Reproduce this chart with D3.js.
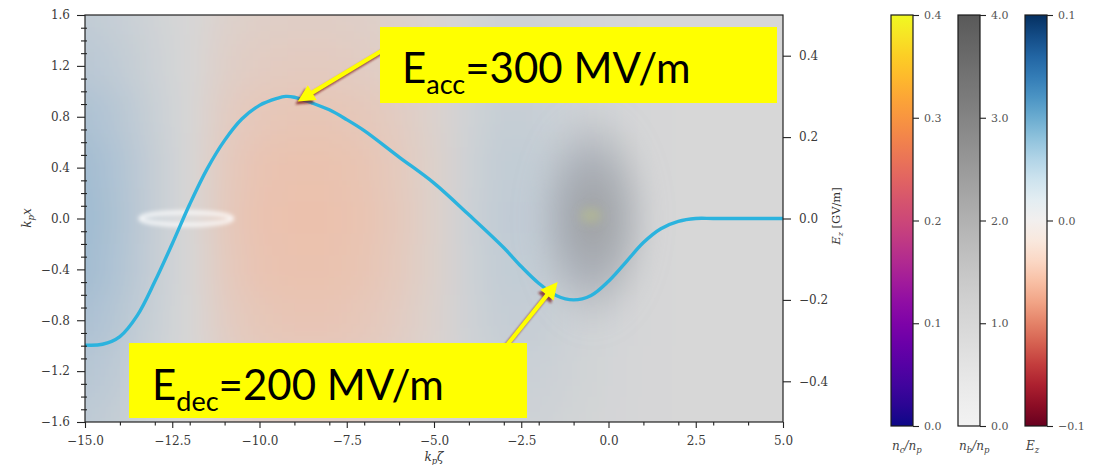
<!DOCTYPE html>
<html>
<head>
<meta charset="utf-8">
<script src="https://cdn.jsdelivr.net/npm/d3@7"></script>
<style>
  body { margin: 0; background: #fff; }
  svg { display: block; font-family: "DejaVu Serif", "Liberation Serif", serif; }
</style>
</head>
<body>
<svg id="chart" width="1093" height="465"></svg>
<script>
// ---- On-axis longitudinal field Ez [GV/m] versus k_p·zeta ----
const zeta   = [-15, -14.5, -14, -13.5, -13, -12.5, -12, -11.5, -11, -10.5, -10, -9.5, -9.25, -9, -8.5, -8, -7.5, -7, -6, -5, -4, -3, -2.5, -2, -1.5, -1, -0.5, 0, 0.5, 1, 1.5, 2, 2.5, 3, 4, 5];
const ezLine = [-0.311, -0.309, -0.290, -0.238, -0.155, -0.062, 0.035, 0.122, 0.192, 0.245, 0.278, 0.295, 0.300, 0.298, 0.284, 0.267, 0.243, 0.216, 0.151, 0.087, 0.009, -0.072, -0.118, -0.159, -0.189, -0.200, -0.189, -0.154, -0.107, -0.059, -0.025, -0.007, 0.0, 0.0, 0.0, 0.0];

// ---- Background Ez map (colour-bar units), separable: column value x row weight ----
const fieldZeta   = [-15, -14, -13, -12, -11, -10, -9, -8, -7, -6, -5, -4, -3, -2, -1, 0, 1, 2, 3, 4, 5];
const fieldEz     = [0.050, 0.036, 0.016, 0.0, -0.024, -0.035, -0.038, -0.038, -0.033, -0.024, -0.011, 0.010, 0.021, 0.019, 0.012, 0.006, 0.002, 0.0, 0.0, 0.0, 0.0];
const fieldX      = [1.6, 1.2, 0.8, 0.4, 0.0, -0.4, -0.8, -1.2, -1.6];
const fieldWeight = [0.4, 0.55, 0.78, 0.95, 1.0, 0.95, 0.8, 0.6, 0.45];

// ---- Beams: drive bunch (n_b/n_p) and witness bunch ----
const driverZeta = [-0.45], driverX = [0.0], driverHalfLen = [1.8], driverHalfWid = [0.9], driverDensity = [2.8];
const witnessZeta = [-12.1], witnessX = [0.0], witnessHalfLen = [1.32], witnessHalfWid = [0.05];

// ---- Axis ticks ----
const xTicks  = [-15, -12.5, -10, -7.5, -5, -2.5, 0, 2.5, 5];
const xMinor  = [-14, -13, -12, -11, -9, -8, -7, -6, -4, -3, -2, -1, 1, 2, 3, 4];
const yTicks  = [-1.6, -1.2, -0.8, -0.4, 0.0, 0.4, 0.8, 1.2, 1.6];
const ezTicks = [-0.4, -0.2, 0.0, 0.2, 0.4];
const ncTicks = [0.0, 0.1, 0.2, 0.3, 0.4];
const nbTicks = [0.0, 1.0, 2.0, 3.0, 4.0];
const ezCbTicks = [-0.1, 0.0, 0.1];

const SERIF = "'DejaVu Serif', 'Liberation Serif', serif";
const svg = d3.select("#chart");
const defs = svg.append("defs");
const L = 85, R = 783, T = 15, B = 422;

const x  = d3.scaleLinear().domain([-15, 5]).range([L, R]);
const y  = d3.scaleLinear().domain([-1.6, 1.6]).range([B, T]);
const yE = d3.scaleLinear().domain([-0.5, 0.5]).range([B, T]);
const fmt = d3.format(".1f");

// filters
function blurFilter(id, sd) {
  const f = defs.append("filter").attr("id", id)
    .attr("filterUnits", "userSpaceOnUse")
    .attr("x", -200).attr("y", -200).attr("width", 1500).attr("height", 900);
  f.append("feGaussianBlur").attr("stdDeviation", sd);
}
blurFilter("fieldBlur", 16);
blurFilter("beamBlur", 12);
blurFilter("ringBlur", 2.2);
blurFilter("spotBlur", 5);
blurFilter("shadowBlur", 1.2);

defs.append("clipPath").attr("id", "plotClip")
  .append("rect").attr("x", L).attr("y", T).attr("width", R - L).attr("height", B - T);

// field colour: diverging map seen through the grey density layer
const fieldColor = d3.scaleLinear().domain([-0.1, 0, 0.1])
  .range(["#ff9a6a", "#d7d7d7", "#5f9fcc"]).interpolate(d3.interpolateLab);

const plot = svg.append("g").attr("clip-path", "url(#plotClip)");
plot.append("rect").attr("x", L).attr("y", T).attr("width", R - L).attr("height", B - T)
  .attr("fill", fieldColor(0));

const field = plot.append("g").attr("filter", "url(#fieldBlur)");
const cells = [];
fieldZeta.forEach((z, i) => fieldX.forEach((xv, j) => cells.push({ z, xv, i, j, v: fieldEz[i] * fieldWeight[j] })));
const cx0 = d => x(d.i === 0 ? d.z - 3 : d.z - 0.5);
const cx1 = d => x(d.i === fieldZeta.length - 1 ? d.z + 3 : d.z + 0.5);
const cy0 = d => y(d.j === 0 ? d.xv + 1 : d.xv + 0.2);
const cy1 = d => y(d.j === fieldX.length - 1 ? d.xv - 1 : d.xv - 0.2);
field.selectAll("rect").data(cells).join("rect")
  .attr("x", cx0).attr("width", d => cx1(d) - cx0(d) + 0.5)
  .attr("y", cy0).attr("height", d => cy1(d) - cy0(d) + 0.5)
  .attr("fill", d => fieldColor(d.v));

// drive bunch density (Greys)
const nbScale = d3.scaleLinear().domain([0, 4]).range([0, 1]);
const beamGrad = defs.append("radialGradient").attr("id", "beamGrad");
beamGrad.append("stop").attr("offset", 0).attr("stop-color", d3.interpolateGreys(0.1 + 0.62 * nbScale(driverDensity[0]))).attr("stop-opacity", 0.75);
beamGrad.append("stop").attr("offset", 0.5).attr("stop-color", "#8a909b").attr("stop-opacity", 0.5);
beamGrad.append("stop").attr("offset", 1).attr("stop-color", "#a8abb2").attr("stop-opacity", 0);
plot.append("g").attr("filter", "url(#beamBlur)")
  .selectAll("ellipse").data(driverZeta).join("ellipse")
  .attr("cx", d => x(d)).attr("cy", (d, i) => y(driverX[i]))
  .attr("rx", (d, i) => x(d + driverHalfLen[i]) - x(d))
  .attr("ry", (d, i) => y(0) - y(driverHalfWid[i]))
  .attr("fill", "url(#beamGrad)");
// faint core of the bunch (plasma map)
plot.append("g").attr("filter", "url(#spotBlur)")
  .selectAll("ellipse").data(driverZeta).join("ellipse")
  .attr("cx", d => x(d) - 2).attr("cy", (d, i) => y(driverX[i]) - 3)
  .attr("rx", 11).attr("ry", 8)
  .attr("fill", "#c9d27a").attr("opacity", 0.32);

// witness bunch
plot.append("g").attr("filter", "url(#ringBlur)")
  .selectAll("ellipse").data(witnessZeta).join("ellipse")
  .attr("cx", d => x(d)).attr("cy", (d, i) => y(witnessX[i]))
  .attr("rx", (d, i) => x(d + witnessHalfLen[i]) - x(d))
  .attr("ry", (d, i) => y(0) - y(witnessHalfWid[i]))
  .attr("fill", "#ffffff").attr("fill-opacity", 0.18)
  .attr("stroke", "#ffffff").attr("stroke-width", 3.5).attr("stroke-opacity", 0.9);

// Ez line (right axis)
const line = d3.line().x((d, i) => x(zeta[i])).y(d => yE(d)).curve(d3.curveCatmullRom.alpha(0.5));
plot.append("path").datum(ezLine)
  .attr("d", line).attr("fill", "none")
  .attr("stroke", "#2bb3de").attr("stroke-width", 3.4).attr("stroke-linecap", "round");

// frame
svg.append("rect").attr("x", L).attr("y", T).attr("width", R - L).attr("height", B - T)
  .attr("fill", "none").attr("stroke", "#222").attr("stroke-width", 1.2);

// axes
function styleAxis(g) {
  g.attr("font-family", SERIF).attr("font-size", 12);
  g.select(".domain").remove();
  g.selectAll(".tick line").attr("stroke", "#222").attr("stroke-width", 1.1);
  g.selectAll(".tick text").attr("fill", "#3a3a3a").style("font-family", SERIF).attr("font-size", 12);
}
const yMinor = d3.range(-15, 16).filter(k => k % 4 !== 0).map(k => k / 10);
svg.append("g").attr("transform", `translate(${L},0)`)
  .call(d3.axisLeft(y).tickValues(yTicks).tickSize(8).tickPadding(7).tickFormat(fmt)).call(styleAxis);
svg.append("g").attr("transform", `translate(${L + 2},0)`)
  .call(d3.axisLeft(y).tickValues(yMinor).tickSize(6).tickFormat("")).call(styleAxis);
svg.append("g").attr("transform", `translate(0,${B})`)
  .call(d3.axisBottom(x).tickValues(xTicks).tickSize(6).tickPadding(8).tickFormat(fmt)).call(styleAxis);
svg.append("g").attr("transform", `translate(0,${B})`)
  .call(d3.axisBottom(x).tickValues(xMinor).tickSize(3.5).tickFormat("")).call(styleAxis);
svg.append("g").attr("transform", `translate(${R},0)`)
  .call(d3.axisRight(yE).tickValues(ezTicks).tickSize(8).tickPadding(8).tickFormat(fmt)).call(styleAxis);

// axis labels
const yl = svg.append("text").attr("transform", "translate(31,218) rotate(-90)")
  .attr("text-anchor", "middle").attr("font-size", 12).attr("fill", "#333").attr("font-style", "italic");
yl.append("tspan").text("k");
yl.append("tspan").attr("font-size", 8.5).attr("dy", 3).text("p");
yl.append("tspan").attr("dy", -3).text("x");

const xl = svg.append("text").attr("x", (L + R) / 2).attr("y", 461)
  .attr("text-anchor", "middle").attr("font-size", 12).attr("fill", "#333").attr("font-style", "italic");
xl.append("tspan").text("k");
xl.append("tspan").attr("font-size", 8.5).attr("dy", 3).text("p");
xl.append("tspan").attr("dy", -3).text("ζ");

const el = svg.append("text").attr("transform", "translate(840,216) rotate(-90)")
  .attr("text-anchor", "middle").attr("font-size", 11.5).attr("fill", "#333");
el.append("tspan").attr("font-style", "italic").text("E");
el.append("tspan").attr("font-style", "italic").attr("font-size", 8).attr("dy", 3).text("z");
el.append("tspan").attr("dy", -3).text(" [GV/m]");

// colour bars
function colorbar(x0, domain, interp, ticks, parts) {
  const top = 15, bot = 426, w = 22;
  const sc = d3.scaleLinear().domain(domain).range([bot, top]);
  const gid = "cb" + x0;
  const gr = defs.append("linearGradient").attr("id", gid).attr("x1", 0).attr("y1", 1).attr("x2", 0).attr("y2", 0);
  d3.range(0, 1.0001, 0.05).forEach(t => gr.append("stop").attr("offset", t).attr("stop-color", interp(t)));
  svg.append("rect").attr("x", x0).attr("y", top).attr("width", w).attr("height", bot - top)
    .attr("fill", `url(#${gid})`).attr("stroke", "#1a1a1a").attr("stroke-width", 1.2);
  const ax = svg.append("g").attr("transform", `translate(${x0 + w},0)`)
    .call(d3.axisRight(sc).tickValues(ticks).tickSize(6).tickPadding(5).tickFormat(fmt));
  styleAxis(ax);
  ax.selectAll(".tick text").attr("fill", "#555").attr("font-size", 11);
  const t = svg.append("text").attr("x", x0 + 1).attr("y", 450).attr("font-size", 12)
    .attr("fill", "#444").attr("font-style", "italic");
  parts.forEach(p => {
    const s = t.append("tspan").text(p.t);
    if (p.sub) s.attr("font-size", 8.5).attr("dy", 3);
    if (p.up) s.attr("dy", -3);
  });
}
colorbar(891, [0, 0.4], d3.interpolatePlasma, ncTicks,
  [{ t: "n" }, { t: "c", sub: true }, { t: "/n", up: true }, { t: "p", sub: true }]);
colorbar(958, [0, 4], t => d3.interpolateGreys(0.1 + 0.62 * t), nbTicks,
  [{ t: "n" }, { t: "b", sub: true }, { t: "/n", up: true }, { t: "p", sub: true }]);
colorbar(1025, [-0.1, 0.1], d3.interpolateRdBu, ezCbTicks,
  [{ t: "E" }, { t: "z", sub: true }]);

// ---- annotations: accelerating peak and decelerating trough ----
const iPeak = ezLine.indexOf(d3.max(ezLine));
const trough = d3.min(ezLine.filter((v, i) => zeta[i] > -5));
const iTrough = ezLine.indexOf(trough);
const eAcc = Math.round(ezLine[iPeak] * 1000);
const eDec = Math.round(-trough * 1000);

function arrow(x1, y1, x2, y2) {
  const g = svg.append("g");
  const ang = Math.atan2(y2 - y1, x2 - x1);
  const hl = 17, hw = 8.5;
  const bx = x2 - hl * Math.cos(ang), by = y2 - hl * Math.sin(ang);
  const head = [[x2, y2],
    [bx + hw * Math.sin(ang), by - hw * Math.cos(ang)],
    [bx - hw * Math.sin(ang), by + hw * Math.cos(ang)]];
  const draw = (gg, col) => {
    gg.append("line").attr("x1", x1).attr("y1", y1).attr("x2", bx + 2 * Math.cos(ang)).attr("y2", by + 2 * Math.sin(ang))
      .attr("stroke", col).attr("stroke-width", 4.2);
    gg.append("polygon").attr("points", head.map(p => p.join(",")).join(" ")).attr("fill", col);
  };
  draw(g.append("g").attr("transform", "translate(-2.5,3)").attr("filter", "url(#shadowBlur)").attr("opacity", 0.75), "#7a1616");
  draw(g.append("g"), "#ffff00");
}
arrow(388, 47, x(zeta[iPeak]) + 12, yE(ezLine[iPeak]) + 5);
arrow(503, 350, x(zeta[iTrough]) - 16, yE(trough) - 18);

function box(x0, y0, x1, y1, tx, ty, sub, value) {
  svg.append("rect").attr("x", x0).attr("y", y0).attr("width", x1 - x0).attr("height", y1 - y0).attr("fill", "#ffff00");
  const t = svg.append("text").attr("x", tx).attr("y", ty)
    .attr("font-family", "Lato, 'Open Sans', sans-serif").attr("font-size", 42).attr("fill", "#000");
  t.append("tspan").text("E");
  t.append("tspan").attr("font-size", 27).attr("dy", 11).text(sub);
  t.append("tspan").attr("dy", -11).text(`=${value} MV/m`);
}
box(380, 27, 777, 103, 402, 83, "acc", eAcc);
box(129, 343, 527, 418, 152, 400, "dec", eDec);
</script>
</body>
</html>
